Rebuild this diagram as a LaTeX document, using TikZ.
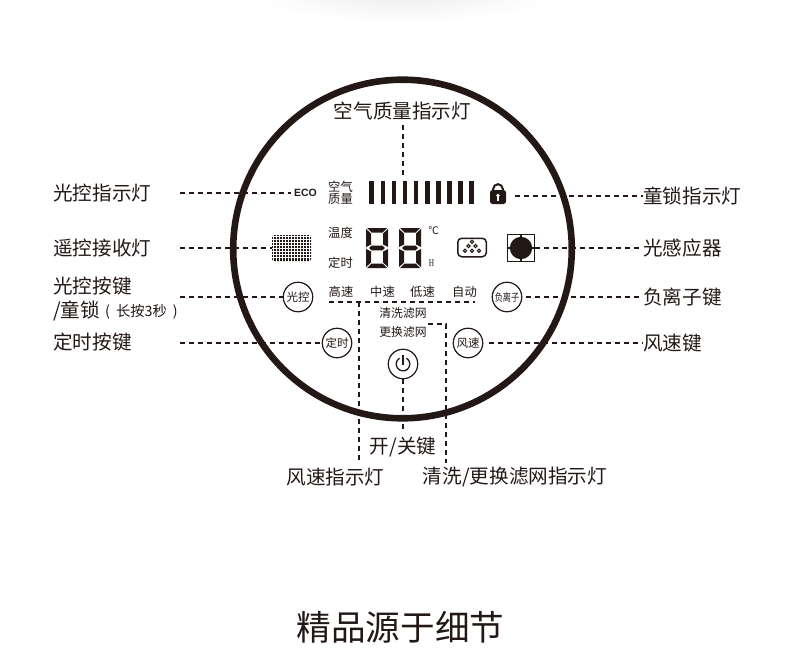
\documentclass[tikz,border=0pt]{standalone}
\usepackage{fontspec}
\setmainfont{Noto Sans CJK SC}
\setsansfont{Liberation Sans}
\newfontfamily\lcdserif{Liberation Serif}
\definecolor{ink}{HTML}{231815}
\tikzset{
    leader/.style = {draw = ink, line width = 1.1pt, dash pattern = on 4.6pt off 4.4pt},
    callout/.style = {text = ink, inner sep = 0pt, font = \fontsize{19.6}{22}\selectfont},
    panel/.style = {text = ink, inner sep = 0pt, align = center, font = \fontsize{12.3}{12.5}\selectfont},
    keyring/.style = {circle, draw = ink, line width = 1.2pt, minimum size = 29.5pt, inner sep = 0pt, text = ink, font = \fontsize{11.5}{12}\selectfont}
}
\begin{document}
\begin{tikzpicture}[x = 1pt, y = -1pt]
    \useasboundingbox (0, 0) rectangle (790, 661);
    \shade[inner color = gray!14, outer color = white] (403, -6) ellipse (150 and 28);
    \draw[ink, line width = 6.6pt] (402.5, 249) circle (169.3);

    \node[callout] (airlabel) at (402.5, 111){空气质量指示灯};
    \node[callout, anchor = west] (ecolabel) at (53, 193){光控指示灯};
    \node[callout, anchor = west] (remotelabel) at (53, 248){遥控接收灯};
    \node[callout, anchor = west] (lightlabel) at (53, 286){光控按键};
    \node[callout, anchor = west] (childlabel) at (53, 311){/童锁};
    \node[panel, anchor = west, font = \fontsize{14.3}{15}\selectfont] (holdlabel) at (105, 311.5){(\hspace{6pt}长按3秒\hspace{6pt})};
    \node[callout, anchor = west] (timerlabel) at (53, 342.5){定时按键};
    \node[callout, anchor = west] (locklabel) at (643, 196){童锁指示灯};
    \node[callout, anchor = west] (sensorlabel) at (643, 248){光感应器};
    \node[callout, anchor = west] (ionlabel) at (643, 297){负离子键};
    \node[callout, anchor = west] (windlabel) at (643, 343){风速键};
    \node[callout] (powerlabel) at (403, 447){开/关键};
    \node[callout] (speedlabel) at (335.5, 477){风速指示灯};
    \node[callout] (filterlabel) at (515, 477){清洗/更换滤网指示灯};
    \node[callout, font = \fontsize{34.6}{36}\selectfont] (title) at (400.5, 627){精品源于细节};

    \node[text = ink, inner sep = 0pt, font = \sffamily\bfseries\fontsize{10.5}{11}\selectfont] (eco) at (305.5, 193){ECO};
    \node[panel] (air) at (340.5, 193){空气\\质量};
    \node[panel] (temp) at (340.5, 233){温度};
    \node[panel] (clock) at (340.5, 263){定时};
    \node[panel] (high) at (341, 292){高速};
    \node[panel] (mid) at (382.5, 292){中速};
    \node[panel] (low) at (422.5, 292){低速};
    \node[panel] (auto) at (464.5, 292){自动};
    \node[panel, font = \fontsize{11.8}{12}\selectfont] (clean) at (403, 313){清洗滤网};
    \node[panel, font = \fontsize{11.8}{12}\selectfont] (swap) at (403, 332){更换滤网};
    \node[text = ink, inner sep = 0pt, font = \fontsize{10.5}{11}\selectfont] (celsius) at (433.5, 231){℃};
    \node[text = ink, inner sep = 0pt, font = \lcdserif\fontsize{10.5}{11}\selectfont] (hour) at (431.5, 263.5){\scalebox{0.7}[1]{H}};

    \foreach \bx in {371.7, 382.8, ..., 472.5}
        \fill[ink] (\bx - 2.3, 181) rectangle (\bx + 2.3, 204);

    \foreach \dx in {366, 399}{
        \begin{scope}[shift = {(\dx, 228)}]
            \fill[ink] (1, 0) -- (21, 0) -- (16.5, 4.5) -- (5.5, 4.5) -- cycle;
            \fill[ink] (1, 40) -- (21, 40) -- (16.5, 35.5) -- (5.5, 35.5) -- cycle;
            \fill[ink] (3, 20) -- (5.5, 17.7) -- (16.5, 17.7) -- (19, 20) -- (16.5, 22.3) -- (5.5, 22.3) -- cycle;
            \fill[ink] (0, 1) -- (5, 5.5) -- (5, 16.5) -- (0, 19) -- cycle;
            \fill[ink] (22, 1) -- (17, 5.5) -- (17, 16.5) -- (22, 19) -- cycle;
            \fill[ink] (0, 39) -- (5, 34.5) -- (5, 23.5) -- (0, 21) -- cycle;
            \fill[ink] (22, 39) -- (17, 34.5) -- (17, 23.5) -- (22, 21) -- cycle;
        \end{scope}
    }

    \node[inner sep = 0pt, minimum width = 17pt, minimum height = 20pt] (lock) at (498, 194){};
    \draw[ink, line width = 2pt] (493.2, 191) -- (493.2, 189) arc[start angle = 180, end angle = 360, radius = 4.8] -- (502.8, 191);
    \fill[ink, rounded corners = 2.5pt] (490, 190) rectangle (506, 204);
    \fill[white] (498, 195.5) circle (1.9);
    \fill[white] (497.2, 196) rectangle (498.8, 200.5);

    \node[fill = ink, rounded corners = 2pt, inner sep = 0pt, minimum width = 39pt, minimum height = 26pt] (receiver) at (291.5, 248){};
    \foreach \gx in {273.5, 276.5, ..., 310}
        \draw[white, line width = 1pt] (\gx, 234.5) -- (\gx, 261.5);
    \foreach \gy in {236.5, 239.5, ..., 260}
        \draw[white, line width = 1pt] (271.5, \gy) -- (311.5, \gy);

    \node[draw = ink, line width = 1.5pt, rounded corners = 4pt, minimum width = 28.5pt, minimum height = 18.5pt, inner sep = 0pt] (ion) at (472, 247.5){};
    \foreach \ox/\oy in {472/241.8, 468.5/246, 475.5/246, 465/250.7, 472/250.7, 479/250.7}
        \draw[ink, line width = 1pt] (\ox, \oy) circle (1.6);

    \node[draw = ink, line width = 1.4pt, minimum size = 27pt, inner sep = 0pt] (sensor) at (521, 248){};
    \fill[ink] (sensor.center) circle (11.2);
    \draw[ink, line width = 1.4pt] (sensor.north) -- (sensor.south);
    \draw[ink, line width = 1.4pt] (sensor.west) -- (sensor.east);

    \node[keyring] (lightkey) at (298, 297){光控};
    \node[keyring, font = \fontsize{9.6}{10}\selectfont] (ionkey) at (507, 297){\scalebox{0.85}[1.1]{负离子}};
    \node[keyring] (timerkey) at (337, 343){定时};
    \node[keyring] (windkey) at (468, 343){风速};
    \node[keyring] (powerkey) at (403, 364){};
    \draw[ink, line width = 1.3pt] (406.4, 358.2) arc[start angle = -60, end angle = 240, radius = 6.8];
    \draw[ink, line width = 1.3pt] (403, 355) -- (403, 365);

    \coordinate (airend) at (403, 175);
    \coordinate (airstart) at (403, 125);
    \coordinate (ecostart) at (180, 193);
    \coordinate (remotestart) at (180, 248);
    \coordinate (lightstart) at (180, 297);
    \coordinate (timerstart) at (180, 343);
    \coordinate (lockstart) at (515, 196);
    \coordinate (powerend) at (403, 431);
    \coordinate (speedleft) at (329, 302);
    \coordinate (speedright) at (475, 302);
    \coordinate (speedtop) at (359, 302);
    \coordinate (speedend) at (359, 463);
    \coordinate (filterstart) at (428, 324);
    \coordinate (filtertop) at (446, 324);
    \coordinate (filterend) at (446, 463);

    \draw[leader] (airstart) -- (airend);
    \draw[leader] (ecostart) -- ([xshift = -3pt]eco.west);
    \draw[leader] (remotestart) -- (receiver.west);
    \draw[leader] (lightstart) -- (lightkey.west);
    \draw[leader] (timerstart) -- ([xshift = -2pt]timerkey.west);
    \draw[leader] (lockstart) -- (locklabel.west);
    \draw[leader] (sensor.east) -- (sensorlabel.west);
    \draw[leader] ([xshift = 4pt]ionkey.east) -- (ionlabel.west);
    \draw[leader] ([xshift = 6pt]windkey.east) -- (windlabel.west);
    \draw[leader] (powerkey.south) -- (powerend);
    \draw[leader] (speedleft) -- (speedright);
    \draw[leader] (speedtop) -- (speedend);
    \draw[leader] (filterstart) -- (filtertop) -- (filterend);
\end{tikzpicture}
\end{document}
